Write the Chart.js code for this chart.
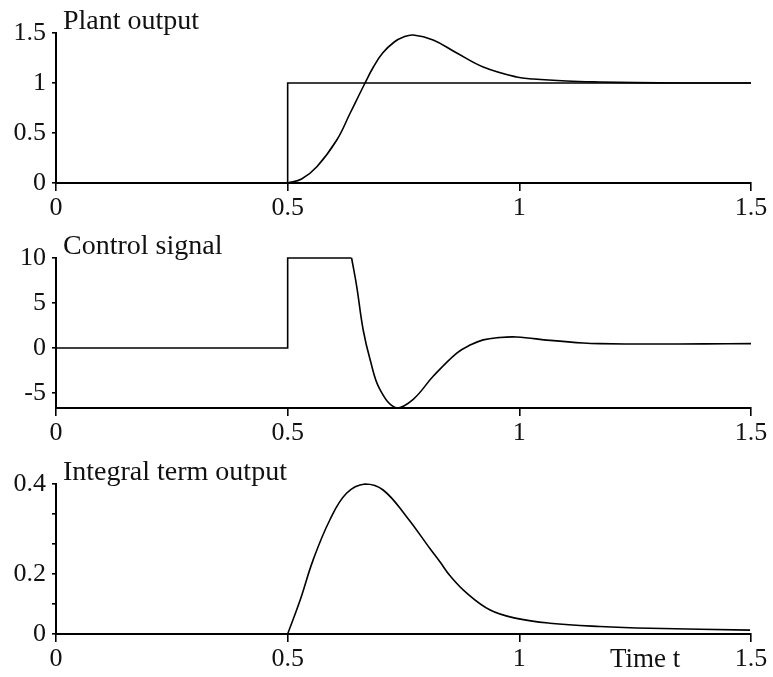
<!DOCTYPE html>
<html>
<head>
<meta charset="utf-8">
<script src="https://cdn.jsdelivr.net/npm/chart.js@4/dist/chart.umd.min.js"></script>
<style>
   body { margin: 0; background: #fff; }
   .wrap { position: absolute; left: 0; width: 773px; }
</style>
</head>
<body>
<div class="wrap" style="top:0;height:220px"><canvas id="plant-chart"></canvas></div>
<div class="wrap" style="top:220px;height:225px"><canvas id="control-chart"></canvas></div>
<div class="wrap" style="top:445px;height:226px"><canvas id="integral-chart"></canvas></div>
<script>
// time axis ticks (shared)
const timeTicks = [0, 0.5, 1, 1.5];

// plant output
const plantT = [0.5, 0.53, 0.563, 0.606, 0.635, 0.667, 0.685, 0.705, 0.73, 0.75, 0.771, 0.814, 0.865, 0.922, 0.994, 1.03, 1.102, 1.174, 1.25, 1.35, 1.5];
const plantY = [0, 0.04, 0.163, 0.43, 0.70, 1.0, 1.16, 1.30, 1.41, 1.46, 1.48, 1.43, 1.30, 1.16, 1.06, 1.04, 1.02, 1.01, 1.004, 1.0, 1.0];
const setpointT = [0, 0.5, 0.5, 1.5];
const setpointY = [0, 0, 1, 1];
const plantTicks = [0, 0.5, 1, 1.5];
const plantLabels = ["0", "0.5", "1", "1.5"];

// control signal (saturated part, then free part)
const ctrlStepT = [0, 0.5, 0.5, 0.638];
const ctrlStepY = [0, 0, 10, 10];
const ctrlT = [0.638, 0.649, 0.663, 0.678, 0.699, 0.735, 0.771, 0.814, 0.865, 0.895, 0.922, 0.955, 0.994, 1.066, 1.138, 1.174, 1.282, 1.4, 1.5];
const ctrlY = [10, 6.85, 2.0, -1.3, -4.6, -6.67, -5.7, -3.15, -0.56, 0.35, 0.9, 1.15, 1.22, 0.85, 0.55, 0.48, 0.44, 0.46, 0.48];
const ctrlTicks = [-5, 0, 5, 10];
const ctrlLabels = ["-5", "0", "5", "10"];

// integral term output
const intFlatT = [0, 0.5];
const intFlatY = [0, 0];
const intT = [0.5, 0.527, 0.555, 0.591, 0.627, 0.667, 0.706, 0.757, 0.807, 0.829, 0.850, 0.886, 0.937, 0.994, 1.066, 1.174, 1.282, 1.498];
const intY = [0, 0.113, 0.247, 0.38, 0.469, 0.50, 0.48, 0.39, 0.285, 0.24, 0.195, 0.137, 0.08, 0.052, 0.036, 0.025, 0.019, 0.013];
const intTicks = [0, 0.1, 0.2, 0.3, 0.4, 0.5];
const intLabels = ["0", "", "0.2", "", "", "0.4"];

const FONT = "'Liberation Serif', 'Times New Roman', serif";

function pts(xs, ys) {
   return xs.map((x, i) => ({ x: x, y: ys[i] }));
}

function series(xs, ys, smooth) {
   return {
      data: pts(xs, ys),
      borderColor: "#000",
      borderWidth: 1.6,
      pointRadius: 0,
      fill: false,
      clip: false,
      tension: smooth ? 0.4 : 0,
   };
}

// draws the panel title and optional axis caption as canvas text
const textPlugin = {
   id: "panelText",
   afterDraw(chart, args, opts) {
      const ctx = chart.ctx;
      ctx.save();
      ctx.fillStyle = "#111";
      ctx.textBaseline = "alphabetic";
      ctx.textAlign = "left";
      ctx.font = "28px " + FONT;
      ctx.fillText(opts.title, chart.chartArea.left + 7, chart.chartArea.top - 4);
      if (opts.caption) {
         ctx.font = "27px " + FONT;
         ctx.fillText(opts.caption, 610, chart.chartArea.bottom + 33);
      }
      ctx.restore();
   },
};

function makeChart(id, datasets, yMin, yMax, yTicks, yLabels, topPad, title, caption) {
   const ctx = document.getElementById(id).getContext("2d");
   return new Chart(ctx, {
      type: "line",
      data: { datasets: datasets },
      plugins: [textPlugin],
      options: {
         responsive: true,
         maintainAspectRatio: false,
         animation: false,
         layout: { padding: { top: topPad, right: 22, left: 0, bottom: 0 } },
         plugins: {
            legend: { display: false },
            tooltip: { enabled: false },
            panelText: { title: title, caption: caption },
         },
         scales: {
            x: {
               type: "linear",
               min: 0,
               max: 1.5,
               afterFit: (s) => { s.height = 37; },
               afterBuildTicks: (s) => { s.ticks = timeTicks.map((v) => ({ value: v })); },
               ticks: {
                  color: "#111",
                  padding: 2,
                  maxRotation: 0,
                  autoSkip: false,
                  font: { family: FONT, size: 26 },
                  callback: (v) => String(v),
               },
               grid: { drawOnChartArea: false, drawTicks: true, tickLength: 8, color: "#000", lineWidth: 1.6 },
               border: { display: true, color: "#000", width: 2 },
            },
            y: {
               min: yMin,
               max: yMax,
               afterFit: (s) => { s.width = 56; },
               afterBuildTicks: (s) => { s.ticks = yTicks.map((v) => ({ value: v })); },
               ticks: {
                  color: "#111",
                  padding: 6,
                  autoSkip: false,
                  font: { family: FONT, size: 26 },
                  callback: (v, i) => yLabels[i],
               },
               grid: { drawOnChartArea: false, drawTicks: true, tickLength: 4, color: "#000", lineWidth: 1.6 },
               border: { display: true, color: "#000", width: 2 },
            },
         },
      },
   });
}

makeChart("plant-chart",
   [series(setpointT, setpointY, false), series([0, 0.5], [0, 0], false), series(plantT, plantY, true)],
   0, 1.5, plantTicks, plantLabels, 33, "Plant output");

makeChart("control-chart",
   [series(ctrlStepT, ctrlStepY, false), series(ctrlT, ctrlY, true)],
   -6.67, 10, ctrlTicks, ctrlLabels, 38, "Control signal");

makeChart("integral-chart",
   [series(intFlatT, intFlatY, false), series(intT, intY, true)],
   0, 0.5, intTicks, intLabels, 39, "Integral term output", "Time t");
</script>
</body>
</html>
